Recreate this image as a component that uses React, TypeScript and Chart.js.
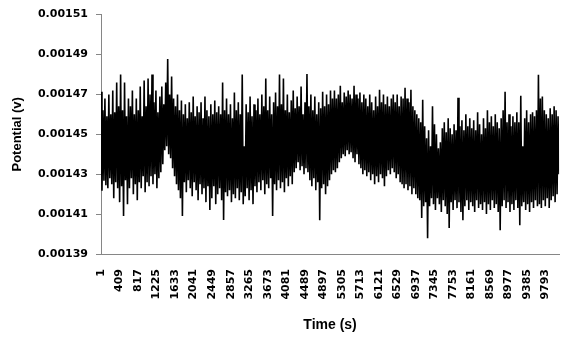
import React, { useEffect, useRef } from "react";
import { Chart, registerables } from "chart.js";

Chart.register(...registerables);

const TIME_START = 1;
const TIME_STEP = 21.6;
const TIME_MIN = 1;
const TIME_MAX = 10090;

const POTENTIAL: number[] = [
  0.0014713, 0.0014217, 0.0014620, 0.0014267, 0.0014680, 0.0014245, 0.0014590, 0.0014230, 0.0014700, 0.0014280,
  0.0014600, 0.0014250, 0.0014720, 0.0014180, 0.0014610, 0.0014260, 0.0014760, 0.0014230, 0.0014640, 0.0014160,
  0.0014800, 0.0014240, 0.0014620, 0.0014090, 0.0014760, 0.0014270, 0.0014590, 0.0014150, 0.0014680, 0.0014230,
  0.0014640, 0.0014280, 0.0014720, 0.0014200, 0.0014600, 0.0014250, 0.0014680, 0.0014170, 0.0014620, 0.0014260,
  0.0014740, 0.0014230, 0.0014590, 0.0014290, 0.0014770, 0.0014210, 0.0014640, 0.0014260, 0.0014780, 0.0014240,
  0.0014700, 0.0014290, 0.0014800, 0.0014250, 0.0014660, 0.0014300, 0.0014720, 0.0014230, 0.0014610, 0.0014280,
  0.0014690, 0.0014310, 0.0014740, 0.0014350, 0.0014650, 0.0014420, 0.0014760, 0.0014440, 0.0014877, 0.0014400,
  0.0014700, 0.0014380, 0.0014790, 0.0014330, 0.0014680, 0.0014290, 0.0014640, 0.0014250, 0.0014700, 0.0014220,
  0.0014620, 0.0014180, 0.0014670, 0.0014090, 0.0014600, 0.0014260, 0.0014650, 0.0014210, 0.0014580, 0.0014270,
  0.0014660, 0.0014230, 0.0014610, 0.0014190, 0.0014690, 0.0014260, 0.0014590, 0.0014220, 0.0014640, 0.0014170,
  0.0014610, 0.0014250, 0.0014660, 0.0014200, 0.0014580, 0.0014230, 0.0014690, 0.0014160, 0.0014620, 0.0014240,
  0.0014590, 0.0014120, 0.0014650, 0.0014180, 0.0014600, 0.0014240, 0.0014670, 0.0014150, 0.0014610, 0.0014200,
  0.0014640, 0.0014230, 0.0014600, 0.0014170, 0.0014760, 0.0014070, 0.0014620, 0.0014210, 0.0014680, 0.0014190,
  0.0014600, 0.0014220, 0.0014650, 0.0014160, 0.0014580, 0.0014200, 0.0014710, 0.0014180, 0.0014620, 0.0014230,
  0.0014660, 0.0014170, 0.0014600, 0.0014210, 0.0014800, 0.0014150, 0.0014440, 0.0014190, 0.0014650, 0.0014230,
  0.0014610, 0.0014170, 0.0014690, 0.0014220, 0.0014590, 0.0014150, 0.0014650, 0.0014240, 0.0014620, 0.0014210,
  0.0014680, 0.0014260, 0.0014600, 0.0014220, 0.0014700, 0.0014270, 0.0014640, 0.0014200, 0.0014780, 0.0014250,
  0.0014620, 0.0014230, 0.0014690, 0.0014280, 0.0014600, 0.0014090, 0.0014660, 0.0014250, 0.0014710, 0.0014220,
  0.0014640, 0.0014270, 0.0014800, 0.0014230, 0.0014650, 0.0014260, 0.0014780, 0.0014210, 0.0014620, 0.0014280,
  0.0014700, 0.0014240, 0.0014610, 0.0014290, 0.0014670, 0.0014250, 0.0014720, 0.0014310, 0.0014630, 0.0014330,
  0.0014690, 0.0014360, 0.0014640, 0.0014320, 0.0014740, 0.0014340, 0.0014600, 0.0014300, 0.0014660, 0.0014330,
  0.0014802, 0.0014310, 0.0014640, 0.0014270, 0.0014700, 0.0014240, 0.0014620, 0.0014280, 0.0014690, 0.0014220,
  0.0014600, 0.0014260, 0.0014660, 0.0014069, 0.0014630, 0.0014230, 0.0014713, 0.0014250, 0.0014640, 0.0014200,
  0.0014700, 0.0014240, 0.0014650, 0.0014270, 0.0014720, 0.0014300, 0.0014680, 0.0014320, 0.0014720, 0.0014310,
  0.0014680, 0.0014330, 0.0014700, 0.0014360, 0.0014743, 0.0014380, 0.0014660, 0.0014400, 0.0014710, 0.0014390,
  0.0014690, 0.0014420, 0.0014720, 0.0014400, 0.0014700, 0.0014410, 0.0014680, 0.0014380, 0.0014743, 0.0014360,
  0.0014700, 0.0014400, 0.0014680, 0.0014350, 0.0014710, 0.0014330, 0.0014660, 0.0014300, 0.0014700, 0.0014320,
  0.0014680, 0.0014290, 0.0014640, 0.0014310, 0.0014700, 0.0014270, 0.0014660, 0.0014300, 0.0014620, 0.0014250,
  0.0014690, 0.0014290, 0.0014640, 0.0014260, 0.0014723, 0.0014300, 0.0014660, 0.0014280, 0.0014700, 0.0014240,
  0.0014650, 0.0014290, 0.0014690, 0.0014320, 0.0014640, 0.0014300, 0.0014680, 0.0014330, 0.0014700, 0.0014310,
  0.0014660, 0.0014280, 0.0014700, 0.0014300, 0.0014640, 0.0014260, 0.0014690, 0.0014250, 0.0014680, 0.0014230,
  0.0014733, 0.0014250, 0.0014680, 0.0014220, 0.0014660, 0.0014240, 0.0014723, 0.0014200, 0.0014640, 0.0014230,
  0.0014620, 0.0014200, 0.0014600, 0.0014180, 0.0014580, 0.0014170, 0.0014560, 0.0014080, 0.0014673, 0.0014140,
  0.0014540, 0.0014160, 0.0014480, 0.0013979, 0.0014520, 0.0014140, 0.0014440, 0.0014180, 0.0014640, 0.0014150,
  0.0014550, 0.0014120, 0.0014500, 0.0014180, 0.0014430, 0.0014150, 0.0014460, 0.0014110, 0.0014530, 0.0014170,
  0.0014560, 0.0014140, 0.0014510, 0.0014100, 0.0014580, 0.0014030, 0.0014530, 0.0014160, 0.0014500, 0.0014120,
  0.0014550, 0.0014170, 0.0014520, 0.0014130, 0.0014683, 0.0014160, 0.0014540, 0.0014110, 0.0014570, 0.0014069,
  0.0014520, 0.0014140, 0.0014600, 0.0014170, 0.0014540, 0.0014120, 0.0014580, 0.0014160, 0.0014530, 0.0014140,
  0.0014570, 0.0014110, 0.0014520, 0.0014170, 0.0014610, 0.0014130, 0.0014550, 0.0014150, 0.0014500, 0.0014120,
  0.0014580, 0.0014160, 0.0014530, 0.0014100, 0.0014620, 0.0014150, 0.0014560, 0.0014120, 0.0014590, 0.0014170,
  0.0014540, 0.0014130, 0.0014600, 0.0014150, 0.0014560, 0.0014110, 0.0014530, 0.0014019, 0.0014580, 0.0014140,
  0.0014620, 0.0014170, 0.0014713, 0.0014130, 0.0014560, 0.0014160, 0.0014600, 0.0014110, 0.0014540, 0.0014150,
  0.0014590, 0.0014120, 0.0014560, 0.0014170, 0.0014610, 0.0014130, 0.0014560, 0.0014044, 0.0014693, 0.0014140,
  0.0014440, 0.0014160, 0.0014580, 0.0014120, 0.0014620, 0.0014150, 0.0014560, 0.0014110, 0.0014600, 0.0014160,
  0.0014610, 0.0014130, 0.0014590, 0.0014170, 0.0014620, 0.0014140, 0.0014798, 0.0014150, 0.0014680, 0.0014130,
  0.0014690, 0.0014170, 0.0014620, 0.0014140, 0.0014600, 0.0014180, 0.0014580, 0.0014130, 0.0014630, 0.0014170,
  0.0014600, 0.0014190, 0.0014640, 0.0014160, 0.0014620, 0.0014200, 0.0014590, 0.0014300,
];

const X_TICKS: number[] = [
  1, 409, 817, 1225, 1633, 2041, 2449, 2857, 3265, 3673, 4081, 4489, 4897,
  5305, 5713, 6121, 6529, 6937, 7345, 7753, 8161, 8569, 8977, 9385, 9793,
];

const Y_TICKS: number[] = [0.00139, 0.00141, 0.00143, 0.00145, 0.00147, 0.00149, 0.00151];

const X_TITLE = "Time (s)";
const Y_TITLE = "Potential (v)";

export default function App() {
  const ref = useRef<HTMLCanvasElement>(null);

  useEffect(() => {
    const canvas = ref.current;
    if (!canvas) return;
    const points = POTENTIAL.map((v, i) => ({ x: TIME_START + i * TIME_STEP, y: v }));
    const tickFont = { family: "'DejaVu Sans', sans-serif", weight: "bold" as const, size: 11 };
    const titleFont = { family: "'Liberation Sans', Arial, sans-serif", weight: "bold" as const, size: 14 };
    const axisColor = "#868686";

    const chart = new Chart(canvas, {
      type: "line",
      data: {
        datasets: [
          {
            data: points,
            borderColor: "#000000",
            backgroundColor: "#000000",
            borderWidth: 1.6,
            borderJoinStyle: "bevel",
            pointRadius: 0,
            tension: 0,
            fill: false,
          },
        ],
      },
      options: {
        animation: false,
        responsive: false,
        maintainAspectRatio: false,
        events: [],
        plugins: { legend: { display: false }, tooltip: { enabled: false } },
        layout: { padding: { left: 0, right: 6, top: 12, bottom: 4 } },
        scales: {
          x: {
            type: "linear",
            min: TIME_MIN,
            max: TIME_MAX,
            afterBuildTicks: (scale: any) => {
              scale.ticks = X_TICKS.map((v) => ({ value: v }));
            },
            afterFit: (scale: any) => {
              scale.height = 81;
            },
            grid: { display: false, drawTicks: false },
            border: { display: true, color: axisColor, width: 1 },
            ticks: {
              autoSkip: false,
              minRotation: 90,
              maxRotation: 90,
              padding: 15,
              color: "#000000",
              font: tickFont,
              callback: (v: any) => String(v),
            },
            title: {
              display: true,
              text: X_TITLE,
              color: "#000000",
              font: titleFont,
              padding: { top: 4, bottom: 1 },
            },
          },
          y: {
            type: "linear",
            min: Y_TICKS[0],
            max: Y_TICKS[Y_TICKS.length - 1],
            afterBuildTicks: (scale: any) => {
              scale.ticks = Y_TICKS.map((v) => ({ value: v }));
            },
            afterFit: (scale: any) => {
              scale.width = 101;
            },
            grid: {
              display: true,
              drawOnChartArea: false,
              drawTicks: true,
              tickLength: 5,
              color: axisColor,
            },
            border: { display: true, color: axisColor, width: 1 },
            ticks: {
              padding: 8,
              color: "#000000",
              font: tickFont,
              callback: (v: any) => Number(v).toFixed(5),
            },
            title: {
              display: true,
              text: Y_TITLE,
              color: "#000000",
              font: { ...titleFont, size: 13 },
              padding: { top: 10, bottom: 0 },
            },
          },
        },
      },
    });
    return () => chart.destroy();
  }, []);

  return (
    <div
      style={{
        position: "fixed",
        left: 0,
        top: 0,
        width: 574,
        height: 339,
        background: "#ffffff",
      }}
    >
      <canvas ref={ref} width={574} height={339} style={{ display: "block", width: 574, height: 339 }} />
    </div>
  );
}
